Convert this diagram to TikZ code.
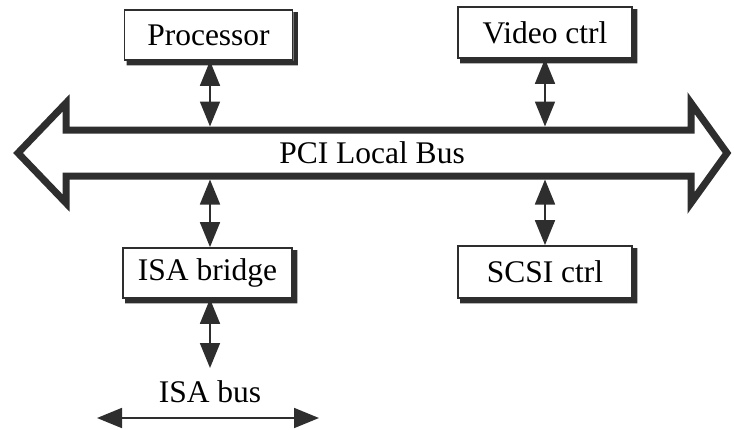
\documentclass[tikz,border=0pt]{standalone}
\usepackage{fontspec}
\setmainfont{Liberation Serif}
\usetikzlibrary{arrows.meta,calc}
\definecolor{ink}{HTML}{2E2E2E}
\newcommand\boxshade[1]{%
  \fill[ink] ($(#1.north east)+(0,3)$) -- ++(4.5,0) -- ($(#1.south east)+(4.5,4.5)$)
    -- ($(#1.south west)+(3,4.5)$) -- ($(#1.south west)+(3,0)$) -- (#1.south east) -- cycle;}
\begin{document}
\begin{tikzpicture}[x=1pt,y=-1pt,
  font=\fontsize{31.5}{36}\selectfont,
  unit/.style={draw=ink,line width=1.8pt,fill=white,inner sep=0pt},
  tip/.tip={Triangle[length=25pt,width=20pt]},
  link/.style={draw=ink,line width=1.8pt,tip-tip},
  bus/.style={draw=ink,line width=7pt,line join=miter,fill=white}]
\useasboundingbox (0,0) rectangle (734,429);
% PCI bus outline
\draw[bus] (18,153) -- (66,103) -- (66,130) -- (691,130) -- (691,103)
  -- (727,153) -- (691,203) -- (691,176) -- (66,176) -- (66,203) -- cycle;
\node (pci) at (372,153) {PCI Local Bus};
% units
\node[unit,minimum width=168pt,minimum height=50pt] (proc) at (208.5,35) {Processor};
\node[unit,minimum width=174pt,minimum height=51pt] (video) at (545,32.5) {Video ctrl};
\node[unit,minimum width=169pt,minimum height=50pt] (isa) at (207.5,273) {ISA bridge};
\node[unit,minimum width=174pt,minimum height=52pt] (scsi) at (545,272) {SCSI ctrl};
\boxshade{proc}
\boxshade{video}
\boxshade{isa}
\boxshade{scsi}
% bus attachment points
\coordinate (p1) at (210,126.5);
\coordinate (p2) at (545,126.5);
\coordinate (p3) at (210,179.5);
\coordinate (p4) at (545,179.5);
\draw[link] (proc.south -| p1) -- (p1);
\draw[link] (video.south -| p2) -- (p2);
\draw[link] (p3) -- (isa.north -| p3);
\draw[link] (p4) -- (scsi.north -| p4);
% ISA bus
\node (isalbl) at (210,392) {ISA bus};
\coordinate (isaend) at (210,368);
\draw[link] (isa.south -| isaend) -- (isaend);
\coordinate (busl) at (97,418);
\coordinate (busr) at (319,418);
\draw[link] (busl) -- (busr);
\end{tikzpicture}
\end{document}
